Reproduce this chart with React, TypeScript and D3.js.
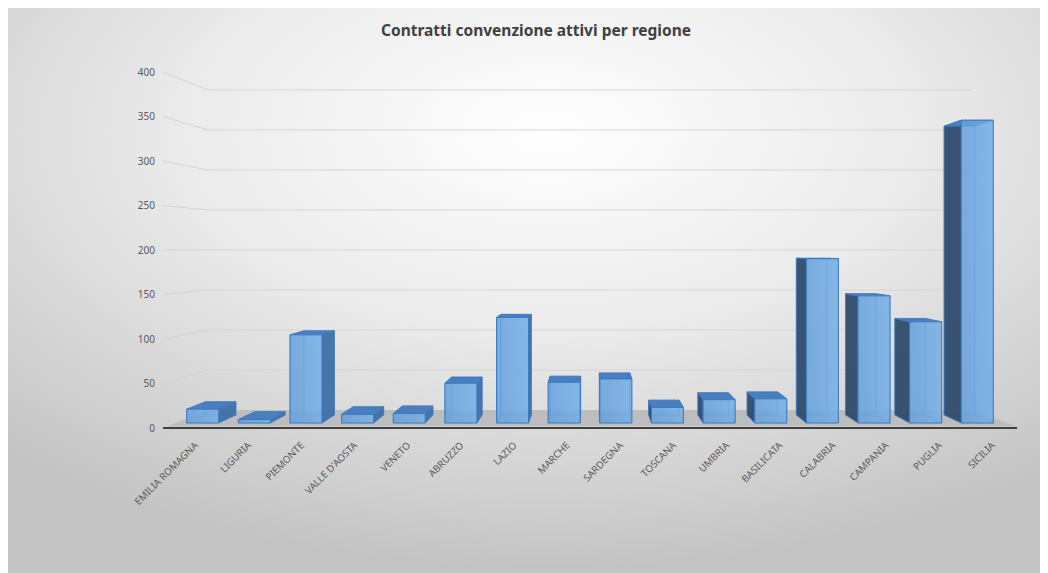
import React from 'react';
import * as d3 from 'd3';

const categories = ["EMILIA ROMAGNA", "LIGURIA", "PIEMONTE", "VALLE D'AOSTA", "VENETO", "ABRUZZO", "LAZIO", "MARCHE", "SARDEGNA", "TOSCANA", "UMBRIA", "BASILICATA", "CALABRIA", "CAMPANIA", "PUGLIA", "SICILIA"];
const values = [16, 4, 102, 10, 11, 46, 122, 47, 51, 18, 27, 28, 190, 147, 117, 350];
const yTicks = [0, 50, 100, 150, 200, 250, 300, 350, 400];
const chartTitle = "Contratti convenzione attivi per regione";

const VX = 590;
const VY = 250;
const S_WALL = 0.899;
const S_BACK = 0.927;
const S_FRONT = 0.972;
const S_FLOOR = 0.99;

function proj(X: number, Y: number, s: number): [number, number] {
  return [VX + (X - VX) * s, VY + (Y - VY) * s];
}
function pts(list: [number, number][]) {
  return list.map(p => p[0].toFixed(2) + ',' + p[1].toFixed(2)).join(' ');
}

export default function App() {
  const x = d3.scaleBand<string>().domain(categories).range([165, 1015]).paddingInner(0.38).paddingOuter(0.19);
  const y = d3.scaleLinear().domain([0, 400]).range([428, 72]);
  const bw = x.bandwidth();
  const X0 = 165, X1 = 1015;
  const font = "'Noto Sans', 'Open Sans', sans-serif";

  return (
    <svg width={1040} height={565} style={{ display: 'block' }}>
      <defs>
        <radialGradient id="bg" cx="0.52" cy="0.22" r="0.78">
          <stop offset="0" stopColor="#ffffff" />
          <stop offset="0.45" stopColor="#ebebeb" />
          <stop offset="1" stopColor="#c3c3c3" />
        </radialGradient>
        <linearGradient id="front" x1="0" y1="0" x2="1" y2="0">
          <stop offset="0" stopColor="#64a0dc" />
          <stop offset="1" stopColor="#74aee6" />
        </linearGradient>
      </defs>
      <g transform="translate(-8,-8)">
        <rect x={8} y={8} width={1040} height={565} fill="url(#bg)" />
        <text x={536} y={36} textAnchor="middle" fontFamily={font} fontWeight="bold" fontSize={15.5} fill="#404040">{chartTitle}</text>

        {/* walls / gridlines */}
        {yTicks.map(t => {
          const [bx, by] = proj(X0, y(t), S_WALL);
          const [ex] = proj(X1, y(t), S_WALL);
          return (
            <g key={'g' + t}>
              <line x1={163} y1={y(t)} x2={bx} y2={by} stroke="#d3d3d3" strokeWidth={1} />
              {t > 0 && <line x1={bx} y1={by} x2={ex} y2={by} stroke="#d6d6d6" strokeWidth={1} />}
              <text x={155} y={y(t) + 3.5} textAnchor="end" fontFamily={font} fontSize={10} fill="#595959">{t}</text>
            </g>
          );
        })}

        {/* floor */}
        <polygon
          points={pts([proj(X0, y(0), S_WALL), proj(X1, y(0), S_WALL), proj(X1 + 5, y(0), S_FLOOR), proj(X0 - 2, y(0), S_FLOOR)])}
          fill="#bdbdbd"
        />
        <line x1={163} y1={428} x2={1017} y2={428} stroke="#3f3f3f" strokeWidth={1.8} />

        {/* bars */}
        {categories.map((c, i) => {
          const xa = x(c)!;
          const xb = xa + bw;
          const yt = y(values[i]);
          const yb = y(0);
          const FTL = proj(xa, yt, S_FRONT), FTR = proj(xb, yt, S_FRONT);
          const FBL = proj(xa, yb, S_FRONT), FBR = proj(xb, yb, S_FRONT);
          const BTL = proj(xa, yt, S_BACK), BTR = proj(xb, yt, S_BACK);
          const BBL = proj(xa, yb, S_BACK), BBR = proj(xb, yb, S_BACK);
          const centerScreen = (FTL[0] + FTR[0]) / 2;
          const rightVisible = centerScreen < VX;
          const side = rightVisible ? [FTR, BTR, BBR, FBR] : [FTL, BTL, BBL, FBL];
          const hidden = rightVisible ? [FTL, BTL, BBL, FBL] : [FTR, BTR, BBR, FBR];
          const sideFill = rightVisible ? '#3f6fa8' : '#2f4c6c';
          return (
            <g key={c}>
              <polygon points={pts([BTL, BTR, BBR, BBL])} fill="none" stroke="#4a86c8" strokeOpacity={0.6} strokeWidth={0.8} />
              <polygon points={pts(hidden as [number, number][])} fill="none" stroke="#4a86c8" strokeOpacity={0.6} strokeWidth={0.8} />
              <polygon points={pts(side as [number, number][])} fill={sideFill} fillOpacity={0.95} stroke="#3b78c0" strokeWidth={0.8} />
              <polygon points={pts([FTL, FTR, BTR, BTL])} fill="#4a7fbf" stroke="#3b78c0" strokeWidth={0.8} />
              <polygon points={pts([FTL, FTR, FBR, FBL])} fill="url(#front)" fillOpacity={0.85} stroke="#3b7ac4" strokeWidth={1} />
            </g>
          );
        })}

        {/* category labels */}
        {categories.map(c => {
          const cx = x(c)! + bw / 2 + 7;
          const cy = 446;
          return (
            <text key={'l' + c} x={cx} y={cy} transform={`rotate(-45 ${cx} ${cy})`} textAnchor="end" fontFamily={font} fontSize={9.8} fill="#595959">{c}</text>
          );
        })}
      </g>
    </svg>
  );
}
